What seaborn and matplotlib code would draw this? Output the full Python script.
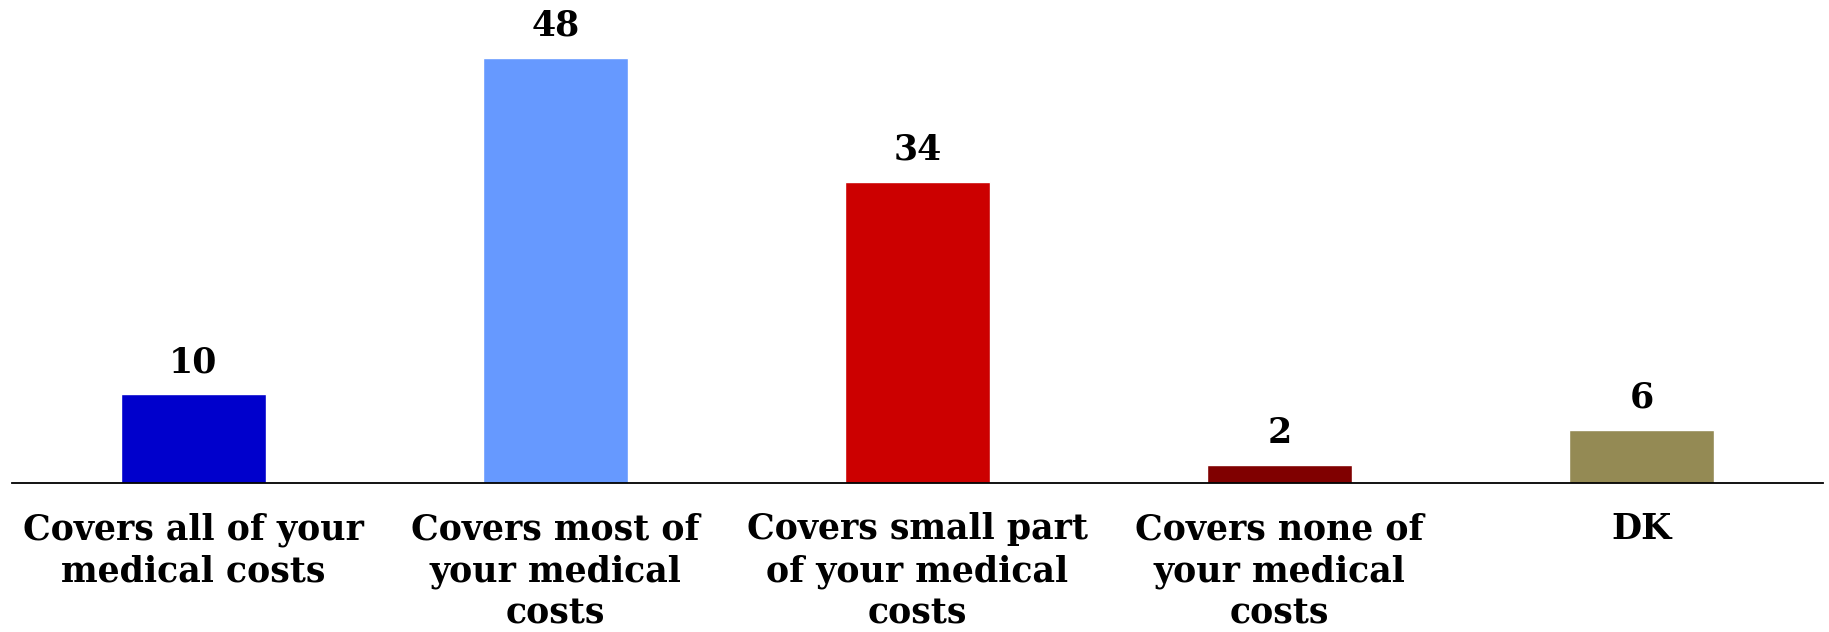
import matplotlib.pyplot as plt
import pandas as pd
import seaborn as sns

# Data
categories = ['Covers all of your\nmedical costs',
              'Covers most of\nyour medical\ncosts',
              'Covers small part\nof your medical\ncosts',
              'Covers none of\nyour medical\ncosts',
              'DK']
values = [10, 48, 34, 2, 6]
bar_colors = ['#0000CC', '#6699FF', '#CC0000', '#800000', '#948A54']

df = pd.DataFrame({'category': categories, 'value': values})

sns.set_style('white')
plt.rcParams['font.family'] = ['DejaVu Serif']
plt.rcParams['text.color'] = 'black'
plt.rcParams['xtick.color'] = 'black'

fig = plt.figure(figsize=(18.29, 6.32), dpi=100)
ax = fig.add_axes([12 / 1829, 149 / 632, 1811 / 1829, 478 / 632])

sns.barplot(data=df, x='category', y='value', hue='category',
            palette=bar_colors, width=0.4, saturation=1, legend=False, ax=ax)

for i, v in enumerate(values):
    ax.annotate(str(v), xy=(i, v), xytext=(0, 11), textcoords='offset points',
                ha='center', va='bottom', fontsize=25, fontweight='bold',
                color='black')

ax.set_xlim(-0.5, len(categories) - 0.5)
ax.set_ylim(0, 54)
ax.set_xlabel('')
ax.set_ylabel('')
ax.set_yticks([])
ax.tick_params(axis='x', length=0, pad=21, labelsize=25, labelcolor='black')
for lbl in ax.get_xticklabels():
    lbl.set_fontweight('bold')
    lbl.set_linespacing(1.3)

for side in ['top', 'right', 'left']:
    ax.spines[side].set_visible(False)
ax.spines['bottom'].set_color('black')
ax.spines['bottom'].set_linewidth(1.3)

fig.savefig('out.png', dpi=100)
